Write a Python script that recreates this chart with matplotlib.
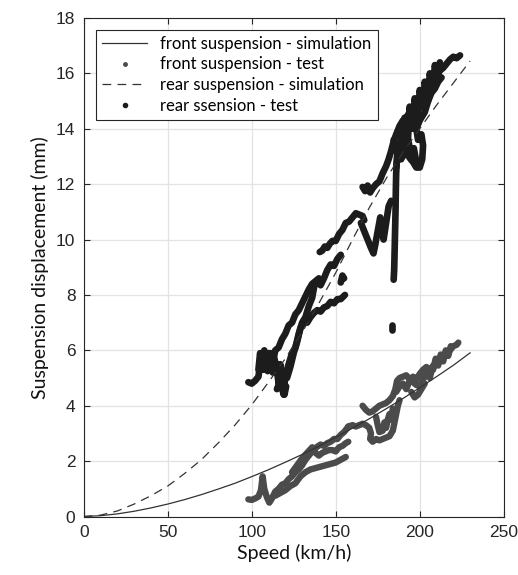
import matplotlib
matplotlib.use("Agg")
import matplotlib.pyplot as plt
from matplotlib.lines import Line2D

# simulation curves (speed in km/h, displacement in mm)
sim_speed = [0, 10, 20, 30, 40, 50, 60, 70, 80, 90, 100, 110, 120, 130, 140,
             150, 160, 170, 180, 190, 200, 210, 220, 230]
front_sim = [0, 0.03, 0.095, 0.19, 0.31, 0.45, 0.61, 0.79, 0.99, 1.20, 1.44, 1.69,
             1.96, 2.24, 2.54, 2.86, 3.19, 3.53, 3.89, 4.26, 4.65, 5.05, 5.46, 5.91]
rear_sim = [0, 0.05, 0.2, 0.45, 0.75, 1.1, 1.55, 2.05, 2.65, 3.3, 4.03, 4.85,
            5.7, 6.65, 7.7, 8.8, 10.0, 11.15, 12.2, 13.15, 14.0, 14.85, 15.65, 16.45]

# measured test runs, one (speed, displacement) pair of lists per recorded stretch
rear_test = [
    ([98, 100, 102, 104, 105.5, 107, 108, 109.5, 111, 112.5, 114, 116, 118, 120, 122,
      124, 126, 128, 130, 132, 134, 136, 138, 140],
     [4.85, 4.8, 4.9, 5.05, 5.7, 5.3, 5.8, 5.25, 5.9, 5.5, 6.0, 6.1, 6.4, 6.6, 6.9,
      7.0, 7.3, 7.45, 7.7, 7.95, 8.2, 8.4, 8.5, 8.6]),
    ([140.5, 142, 143.5, 145, 146.5, 148, 150, 152, 154, 156, 158, 160, 162, 164, 166, 167],
     [9.55, 9.6, 9.75, 9.7, 9.85, 9.95, 9.95, 10.2, 10.35, 10.6, 10.65, 10.8, 10.95,
      10.9, 10.85, 10.7]),
    ([165, 167, 169, 171, 172.5, 173.5, 175, 176.5, 177.5, 178.5, 180, 181.5, 183],
     [10.6, 10.3, 10.0, 9.7, 9.5, 9.8, 10.3, 10.8, 10.4, 10.0, 10.6, 11.2, 11.4]),
    ([115, 117, 119, 120, 122, 124, 126, 128, 130, 132, 134, 136, 137.5, 139, 141, 143,
      145, 147, 149, 151, 153],
     [4.6, 4.9, 4.4, 5.1, 5.5, 5.9, 6.1, 6.6, 7.0, 7.2, 7.6, 7.9, 8.4, 8.5, 8.35, 8.6,
      8.9, 9.1, 9.05, 9.3, 9.45]),
    ([121, 123, 125, 127, 129, 131, 133, 135, 137, 139, 141, 143, 145, 147, 149, 151,
      153, 155.5],
     [5.0, 5.4, 5.9, 6.3, 6.8, 7.05, 7.0, 7.2, 7.35, 7.45, 7.4, 7.55, 7.6, 7.75, 7.7,
      7.85, 7.85, 8.0]),
    ([104, 105, 106, 107.5, 109, 110, 111, 112.5, 113.5, 115, 116, 117, 118, 119.5, 120.5],
     [5.3, 5.9, 5.5, 6.0, 5.4, 5.9, 5.6, 5.2, 5.7, 5.3, 4.8, 5.5, 5.1, 4.4, 4.7]),
    ([153, 154, 155], [8.45, 8.7, 8.6]),
    ([186.5, 186, 185.8, 185.6, 185.3, 185, 184.8, 184.5],
     [13.0, 12.4, 11.8, 11.0, 10.2, 9.4, 8.9, 8.55]),
    ([166, 167.5, 169, 170.5, 172, 174, 176, 178, 180, 181.5, 183, 184.5, 186, 188, 190,
      192, 194, 196, 198, 200, 202, 204, 206, 208, 210, 212, 214, 216, 218, 220, 222, 224],
     [11.9, 11.75, 11.95, 11.7, 11.85, 12.0, 12.1, 12.4, 12.65, 12.9, 13.2, 13.55, 13.8,
      14.1, 14.3, 14.4, 14.6, 14.7, 14.85, 14.95, 15.1, 15.2, 15.5, 15.8, 16.0, 16.1,
      16.2, 16.35, 16.5, 16.6, 16.55, 16.65]),
    ([184.5, 186, 188, 190, 192, 194, 196, 198, 200, 201.5, 202, 201, 199, 198, 200, 203,
      205, 207, 209, 211, 213],
     [13.6, 13.2, 12.9, 13.0, 13.2, 12.95, 12.8, 12.6, 12.6, 12.9, 13.4, 13.8, 13.6,
      14.0, 14.3, 14.6, 15.0, 15.3, 15.45, 15.7, 15.85]),
    ([188, 189, 190, 191, 193, 194, 196, 197, 199, 200, 202, 203, 205, 206, 208, 209,
      211, 212],
     [13.0, 14.0, 13.3, 14.4, 13.6, 14.8, 14.0, 15.1, 14.4, 15.4, 14.8, 15.7, 15.0, 16.0,
      15.4, 16.3, 15.8, 16.4]),
    ([186, 187.5, 189, 190.5, 192, 193.5, 195, 196.5, 198],
     [12.6, 13.4, 12.9, 13.7, 13.1, 13.5, 12.9, 13.3, 12.8]),
    ([183.5, 183.5], [6.9, 6.72]),
]

front_test = [
    ([98, 100, 102, 104, 105.5, 106.5, 107.5, 109, 110.5, 112, 114, 116, 118, 120, 122,
      124, 126, 128, 130, 132, 134, 136, 138.5, 141, 143, 145, 147, 149, 151, 153, 155,
      157.5],
     [0.62, 0.6, 0.65, 0.72, 0.95, 1.45, 1.0, 0.7, 0.5, 0.65, 0.9, 1.0, 1.15, 1.2, 1.35,
      1.45, 1.6, 1.7, 1.85, 2.05, 2.2, 2.35, 2.5, 2.6, 2.55, 2.65, 2.7, 2.8, 2.8, 2.95,
      3.05, 3.25]),
    ([114, 117, 120, 123, 126, 129, 132, 135, 138, 141, 144, 147, 150, 153, 156],
     [0.75, 0.85, 0.95, 1.1, 1.2, 1.45, 1.6, 1.7, 1.75, 1.8, 1.85, 1.9, 1.95, 2.05, 2.15]),
    ([124, 127, 130, 133, 136, 138, 140, 142, 144, 146, 148, 150, 152, 154, 156, 157.5],
     [1.6, 1.85, 2.1, 2.3, 2.5, 2.3, 2.2, 2.3, 2.35, 2.4, 2.4, 2.35, 2.5, 2.55, 2.65, 2.7]),
    ([157.5, 160, 162, 164, 166, 168, 170, 171, 170.5, 172, 174, 176, 178, 180, 182, 184,
      185, 186, 187, 188],
     [3.25, 3.3, 3.25, 3.3, 3.35, 3.3, 3.2, 3.0, 2.8, 2.7, 2.8, 2.75, 2.8, 2.85, 2.9, 3.1,
      3.4, 3.7, 4.0, 4.2]),
    ([166, 168, 170, 172, 174, 176, 178, 180, 182, 184, 185.5, 186.5, 188, 190, 192, 194,
      196, 198, 200, 202, 204, 206, 208, 210, 212, 214, 216, 218, 220, 222, 223],
     [4.0, 3.85, 3.75, 3.8, 3.9, 4.0, 4.05, 4.1, 4.2, 4.35, 4.6, 4.9, 5.0, 5.05, 5.1,
      4.95, 4.85, 4.75, 4.7, 4.95, 5.15, 5.3, 5.45, 5.55, 5.65, 5.75, 5.9, 6.0, 6.15,
      6.2, 6.28]),
    ([174, 175, 176, 178, 179, 180, 181, 182, 183, 184],
     [3.6, 3.3, 3.05, 3.1, 3.4, 3.2, 3.5, 3.7, 3.5, 3.9]),
    ([186, 188, 190, 192, 194, 196, 198, 200, 202, 204, 205, 206, 207],
     [4.5, 4.7, 4.8, 4.6, 4.9, 5.05, 4.95, 5.15, 5.3, 5.4, 5.2, 5.0, 5.25]),
    ([195, 197, 199, 201, 203], [4.5, 4.3, 4.4, 4.6, 4.8]),
    ([208, 209.5, 211, 212.5, 214, 215.5, 217, 218.5],
     [5.3, 5.7, 5.45, 5.85, 5.6, 6.0, 5.8, 6.15]),
]

x_ticks = [0, 50, 100, 150, 200, 250]
y_ticks = [0, 2, 4, 6, 8, 10, 12, 14, 16, 18]

legend_labels = ["front suspension - simulation", "front suspension - test",
                 "rear suspension - simulation", "rear ssension - test"]

front_col = "#4b4b4b"
rear_col = "#1c1c1c"
sim_col = "#333333"

fig = plt.figure(figsize=(5.18, 5.75), dpi=100)
ax = fig.add_axes([0.1616, 0.1017, 0.8108, 0.8670])

ax.grid(True, color="#e3e3e3", lw=0.9, zorder=0)
ax.set_axisbelow(True)

for s, d in front_test:
    ax.plot(s, d, "-", color=front_col, lw=4.6, solid_joinstyle="round",
            solid_capstyle="round", zorder=2)
for s, d in rear_test:
    ax.plot(s, d, "-", color=rear_col, lw=4.8, solid_joinstyle="round",
            solid_capstyle="round", zorder=2)

ax.plot(sim_speed, front_sim, "-", color=sim_col, lw=0.9, zorder=3)
ax.plot(sim_speed, rear_sim, "--", color=sim_col, lw=0.9, dashes=(7, 5), zorder=3)

ax.set_xlim(0, 250)
ax.set_ylim(0, 18)
ax.set_xticks(x_ticks)
ax.set_yticks(y_ticks)
ax.tick_params(direction="in", length=4, width=0.8, top=True, right=True,
               labelsize=12.5, colors="#262626", pad=6)
for lab in ax.get_xticklabels() + ax.get_yticklabels():
    lab.set_fontfamily("Liberation Sans")
for sp in ax.spines.values():
    sp.set_color("#262626")
    sp.set_linewidth(0.8)

ax.set_xlabel("Speed (km/h)", fontsize=14, family="Lato", color="#111111", labelpad=3)
ax.set_ylabel("Suspension displacement (mm)", fontsize=14, family="Lato",
              color="#111111", labelpad=5)

handles = [
    Line2D([], [], color=sim_col, lw=0.9),
    Line2D([], [], color=front_col, ls="none", marker=".", ms=5),
    Line2D([], [], color=sim_col, lw=0.9, ls="--", dashes=(7, 5)),
    Line2D([], [], color=rear_col, ls="none", marker=".", ms=6),
]
leg = ax.legend(handles, legend_labels, loc="upper left", bbox_to_anchor=(0.03, 0.976),
                prop={"family": "Lato", "size": 12}, frameon=True, fancybox=False,
                framealpha=1, edgecolor="#262626", handlelength=2.7,
                labelspacing=0.28, borderpad=0.35, handletextpad=0.8,
                borderaxespad=0)
leg.get_frame().set_linewidth(0.8)

fig.savefig("out.png", dpi=100)
